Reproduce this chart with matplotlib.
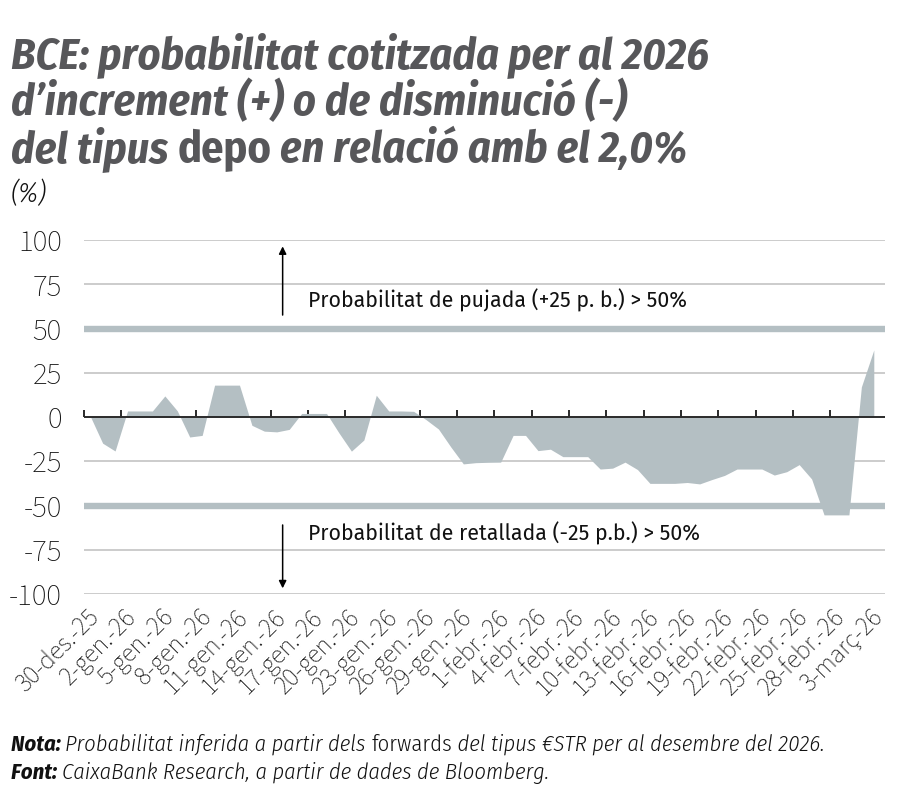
import matplotlib
matplotlib.use("Agg")
import matplotlib.pyplot as plt
import matplotlib.transforms as mtransforms
import numpy as np

# ---------------- data ----------------
# daily values 30-des-25 .. 3-marc-26 (64 days), in %
values = [0.5, -14.8, -19.2, 3.4, 3.4, 3.4, 11.9, 3.5, -11.3, -10.4,
          18.0, 18.0, 18.0, -4.7, -8.0, -8.4, -7.0, 2.0, 2.0, 2.0,
          -9.0, -19.3, -13.0, 12.3, 3.4, 3.4, 3.2, -1.5, -6.8, -17.0,
          -26.5, -25.8, -25.6, -25.5, -10.4, -10.4, -19.0, -18.2, -22.4, -22.4,
          -22.4, -29.4, -28.9, -25.5, -29.7, -37.5, -37.5, -37.5, -37.0, -37.8,
          -35.3, -33.0, -29.4, -29.4, -29.4, -32.8, -30.9, -26.9, -35.0, -55.3,
          -55.3, -55.3, 17.0, 37.9]

tick_labels = ['30-des.-25', '2-gen.-26', '5-gen.-26', '8-gen.-26', '11-gen.-26',
               '14-gen.-26', '17-gen.-26', '20-gen.-26', '23-gen.-26', '26-gen.-26',
               '29-gen.-26', '1-febr.-26', '4-febr.-26', '7-febr.-26', '10-febr.-26',
               '13-febr.-26', '16-febr.-26', '19-febr.-26', '22-febr.-26', '25-febr.-26',
               '28-febr.-26', '3-març-26']
tick_step = 3

y_ticks = [100, 75, 50, 25, 0, -25, -50, -75, -100]
threshold = 50

title_lines = [
    [("BCE: probabilitat cotitzada per al 2026", "italic")],
    [("d\u2019increment (+) o de disminució (-)", "italic")],
    [("del tipus ", "italic"), ("depo", "normal"), (" en relació amb el 2,0%", "italic")],
]
unit_label = "(%)"
up_text = "Probabilitat de pujada (+25 p. b.) > 50%"
down_text = "Probabilitat de retallada (-25 p.b.) > 50%"
note_pieces = [("Nota: ", "italic", "bold"),
               ("Probabilitat inferida a partir dels ", "italic", 300),
               ("forwards", "normal", 300),
               (" del tipus €STR per al desembre del 2026.", "italic", 300)]
source_pieces = [("Font: ", "italic", "bold"),
                 ("CaixaBank Research, a partir de dades de Bloomberg.", "italic", 300)]

# ---------------- style ----------------
W, H = 900, 802
FILL = '#b4bfc3'
GRID = '#c8c8c8'
AXIS = '#2a2a2a'
TITLE_C = '#57575a'
COND = 'Fira Sans Condensed'
SANS = 'Fira Sans'
TICKF = 'Source Sans 3'

fig = plt.figure(figsize=(W / 100, H / 100), dpi=100)
ax = fig.add_axes([84 / W, 1 - 594 / H, (885 - 84) / W, (594 - 240) / H])
renderer = fig.canvas.get_renderer()


def size_for(text, target_w, family, weight='normal', style='normal', base=20):
    t = fig.text(0, 0, text, fontsize=base, family=family, fontweight=weight, fontstyle=style)
    w = t.get_window_extent(renderer=renderer).width
    t.remove()
    return base * target_w / w


n = len(values)
x = np.arange(n)
ax.set_xlim(-0.5, n - 0.5 + 0.4)
ax.set_ylim(min(y_ticks), max(y_ticks))

for v in y_ticks:
    if v == 0:
        continue
    if abs(v) == threshold:
        ax.axhline(v, color=FILL, lw=4.6, zorder=1, solid_capstyle='butt')
    else:
        ax.axhline(v, color=GRID, lw=1.3, zorder=0)

ax.fill_between(x, values, 0, color=FILL, lw=0, zorder=2)
ax.axhline(0, color=AXIS, lw=1.4, zorder=4)

for s in ax.spines.values():
    s.set_visible(False)

# x labels at category centres
xsize = size_for(tick_labels[0], 106, TICKF, 300)
ax.set_xticks(x[::tick_step])
ax.set_xticklabels(tick_labels, rotation=45, ha='right', va='center',
                   rotation_mode='anchor', fontsize=xsize, family=TICKF,
                   fontweight=300, color='#111111')
ax.tick_params(axis='x', length=0, pad=14)
shift = mtransforms.ScaledTranslation(5 / 100, 0, fig.dpi_scale_trans)
for lab in ax.get_xticklabels():
    lab.set_transform(lab.get_transform() + shift)

ysize = size_for(str(y_ticks[0]), 44, TICKF, 300)
ax.set_yticks(y_ticks)
ax.set_yticklabels([str(v) for v in y_ticks],
                   fontsize=ysize, family=TICKF, fontweight=300, color='#111111')
ax.tick_params(axis='y', length=0, pad=16)

# tick marks on the zero line (category boundaries)
sec = ax.secondary_xaxis(0.5)
sec.set_xticks(x[::tick_step] - 0.5)
sec.tick_params(axis='x', which='both', direction='out', length=5, width=1.4,
                color=AXIS, labeltop=False, labelbottom=False, top=True, bottom=False)
for s in sec.spines.values():
    s.set_visible(False)

# annotations
ax.annotate('', xy=(0.248, 0.982), xytext=(0.248, 0.788), xycoords='axes fraction',
            arrowprops=dict(arrowstyle='-|>', color='black', lw=1.1, mutation_scale=11,
                            shrinkA=0, shrinkB=0))
ax.annotate('', xy=(0.248, 0.016), xytext=(0.248, 0.195), xycoords='axes fraction',
            arrowprops=dict(arrowstyle='-|>', color='black', lw=1.1, mutation_scale=11,
                            shrinkA=0, shrinkB=0))
asize = size_for(up_text, 378, SANS, 'normal')
ax.text(0.28, 0.830, up_text, transform=ax.transAxes, fontsize=asize, family=SANS,
        va='center', ha='left', color='#111111', zorder=6)
ax.text(0.28, 0.172, down_text, transform=ax.transAxes, fontsize=asize,
        family=SANS, va='center', ha='left', color='#111111', zorder=6)


# ---------------- texts ----------------
def rich_line(x_px, y_px, pieces, size, color, weight_default='normal'):
    xx = x_px
    for p in pieces:
        txt, style = p[0], p[1]
        weight = p[2] if len(p) > 2 else weight_default
        t = fig.text(xx / W, 1 - y_px / H, txt, fontsize=size, fontstyle=style,
                     fontweight=weight, family=COND, color=color,
                     ha='left', va='baseline')
        xx += t.get_window_extent(renderer=renderer).width


tsize = size_for(title_lines[0][0][0], 698, COND, 'bold', 'italic', 30)
for i, line in enumerate(title_lines):
    rich_line(11, 68 + 47 * i, line, tsize, TITLE_C, 'bold')

fig.text(11 / W, 1 - 202 / H, unit_label, fontsize=20, fontstyle='italic', fontweight=300,
         family=COND, color='#111111', ha='left', va='baseline')

fsize = size_for("".join(p[0] for p in note_pieces), 816, COND, 300, 'italic', 15)
rich_line(11, 751, note_pieces, fsize, '#111111')
rich_line(11, 779, source_pieces, fsize, '#111111')

fig.savefig('out.png', dpi=100)
